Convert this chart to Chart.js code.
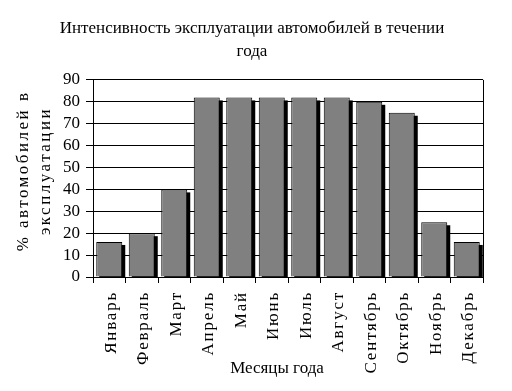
<!DOCTYPE html>
<html>
<head>
<meta charset="utf-8">
<script src="https://cdn.jsdelivr.net/npm/chart.js@4/dist/chart.umd.min.js"></script>
<style>
html,body{margin:0;padding:0;background:#fff;}
#wrap{width:512px;height:391px;position:relative;}
</style>
</head>
<body>
<div id="wrap"><canvas id="c" width="512" height="391"></canvas></div>
<script>
const months = ["Январь","Февраль","Март","Апрель","Май","Июнь","Июль","Август","Сентябрь","Октябрь","Ноябрь","Декабрь"];
const usage = [16, 20, 40, 82, 82, 82, 82, 82, 80, 75, 25, 16];
const yTicks = [0, 10, 20, 30, 40, 50, 60, 70, 80, 90];
const chartTitle = ["Интенсивность эксплуатации автомобилей в течении", "года"];
const yTitle = ["% автомобилей в", "эксплуатации"];
const xTitle = "Месяцы года";

const FONT = "'Liberation Serif', 'Times New Roman', serif";

// black drop shadow behind each bar
const shadowPlugin = {
  id: 'barShadow',
  beforeDatasetsDraw(chart) {
    const ctx = chart.ctx, a = chart.chartArea;
    ctx.save();
    ctx.beginPath();
    ctx.rect(a.left, a.top - 5, a.right - a.left, a.bottom - a.top + 5);
    ctx.clip();
    ctx.fillStyle = '#000';
    chart.getDatasetMeta(0).data.forEach(bar => {
      const p = bar.getProps(['x', 'y', 'base', 'width'], true);
      const left = p.x - p.width / 2;
      ctx.fillRect(left + 3, p.y + 3, p.width, p.base - p.y);
    });
    ctx.restore();
  }
};

// frame + axis texts with letter spacing
const textPlugin = {
  id: 'axisTexts',
  afterDraw(chart) {
    const ctx = chart.ctx, a = chart.chartArea, xs = chart.scales.x;
    ctx.save();
    ctx.strokeStyle = '#000';
    ctx.lineWidth = 1;
    ctx.beginPath();
    ctx.moveTo(Math.round(a.right) + 0.5, a.top);
    ctx.lineTo(Math.round(a.right) + 0.5, a.bottom);
    ctx.stroke();

    ctx.fillStyle = '#000';
    ctx.font = '17px ' + FONT;
    ctx.letterSpacing = '1.8px';
    months.forEach((m, i) => {
      const px = xs.getPixelForTick(i);
      ctx.save();
      ctx.translate(px + 6.5, a.bottom + 14);
      ctx.rotate(-Math.PI / 2);
      ctx.textAlign = 'right';
      ctx.textBaseline = 'alphabetic';
      ctx.fillText(m, 0, 0);
      ctx.restore();
    });

    ctx.letterSpacing = '2.5px';
    const cy = (a.top + a.bottom) / 2 - 7.5;
    [28, 50].forEach((bx, i) => {
      ctx.save();
      ctx.translate(bx, cy);
      ctx.rotate(-Math.PI / 2);
      ctx.textAlign = 'center';
      ctx.textBaseline = 'alphabetic';
      ctx.fillText(yTitle[i], 0, 0);
      ctx.restore();
    });

    ctx.letterSpacing = '0px';
    ctx.textAlign = 'center';
    ctx.textBaseline = 'alphabetic';
    ctx.fillText(xTitle, (a.left + a.right) / 2 - 11, a.bottom + 96);
    ctx.restore();
  }
};

new Chart(document.getElementById('c'), {
  type: 'bar',
  data: {
    labels: months,
    datasets: [{
      data: usage,
      backgroundColor: '#808080',
      borderColor: '#000',
      borderWidth: 1,
      barPercentage: 0.8,
      categoryPercentage: 1.0
    }]
  },
  options: {
    responsive: false,
    animation: false,
    devicePixelRatio: 1,
    layout: { padding: { left: 21, right: 29, top: 8, bottom: 4 } },
    plugins: {
      legend: { display: false },
      tooltip: { enabled: false },
      title: {
        display: true,
        text: chartTitle,
        color: '#000',
        font: { family: FONT, size: 17, weight: 'normal', lineHeight: 1.35 },
        padding: { top: 9, bottom: 17 }
      }
    },
    scales: {
      x: {
        offset: true,
        grid: { display: true, drawOnChartArea: false, drawTicks: true, tickLength: 6, color: '#000', offset: true },
        border: { color: '#000', width: 1 },
        ticks: { display: false, autoSkip: false },
        afterFit(scale) { scale.height = 391 - 277 - 4; }
      },
      y: {
        min: 0, max: 90,
        afterBuildTicks(scale) { scale.ticks = yTicks.map(v => ({ value: v })); },
        grid: { color: '#000', lineWidth: 1, tickLength: 7, drawTicks: true },
        border: { color: '#000', width: 1 },
        ticks: { color: '#000', font: { family: FONT, size: 17 }, padding: 6, autoSkip: false },
        afterFit(scale) { scale.width = 72; }
      }
    }
  },
  plugins: [shadowPlugin, textPlugin]
});
</script>
</body>
</html>
